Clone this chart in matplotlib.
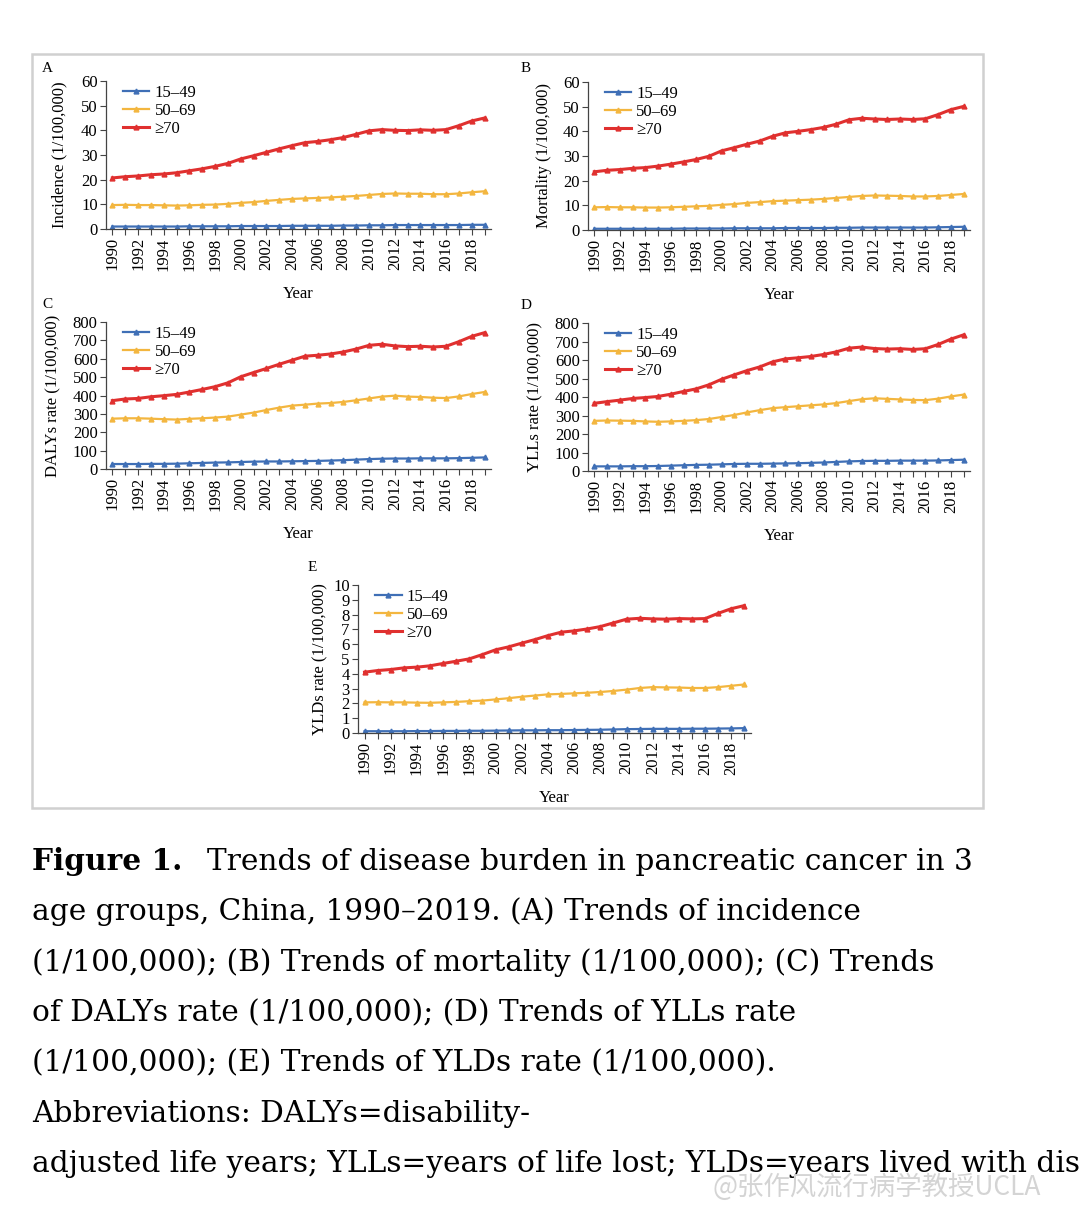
import matplotlib.pyplot as plt
from matplotlib.patches import Rectangle

# data
years = list(range(1990, 2020))
groups = ['15–49', '50–69', '≥70']

inc_15_49 = [1.0, 1.0, 1.0, 1.0, 1.0, 1.0, 1.1, 1.1, 1.1, 1.1, 1.2, 1.2, 1.2, 1.2, 1.3, 1.3,
             1.3, 1.3, 1.4, 1.4, 1.5, 1.5, 1.6, 1.6, 1.6, 1.6, 1.6, 1.6, 1.7, 1.7]
inc_50_69 = [9.7, 9.8, 9.7, 9.7, 9.6, 9.5, 9.6, 9.8, 9.9, 10.2, 10.6, 10.9, 11.4, 11.8, 12.2,
             12.4, 12.6, 12.8, 13.1, 13.4, 13.8, 14.2, 14.4, 14.3, 14.3, 14.1, 14.1, 14.4, 14.9, 15.3]
inc_70 = [20.7, 21.2, 21.5, 22.0, 22.3, 22.8, 23.6, 24.4, 25.4, 26.6, 28.4, 29.7, 31.1, 32.5, 33.8,
          35.0, 35.5, 36.2, 37.1, 38.4, 39.8, 40.3, 40.0, 39.9, 40.2, 40.0, 40.3, 41.9, 43.8, 45.0]

mort_15_49 = [0.5, 0.5, 0.5, 0.5, 0.5, 0.5, 0.5, 0.6, 0.6, 0.6, 0.6, 0.7, 0.7, 0.7, 0.7, 0.8,
              0.8, 0.8, 0.8, 0.9, 0.9, 1.0, 1.0, 1.0, 1.0, 1.0, 1.0, 1.1, 1.2, 1.3]
mort_50_69 = [9.2, 9.3, 9.2, 9.2, 9.1, 9.1, 9.2, 9.4, 9.6, 9.8, 10.2, 10.5, 11.0, 11.3, 11.7,
              11.9, 12.1, 12.3, 12.6, 13.0, 13.4, 13.8, 14.0, 13.9, 13.8, 13.6, 13.6, 13.8, 14.2, 14.6]
mort_70 = [23.6, 24.2, 24.5, 25.0, 25.3, 25.9, 26.7, 27.6, 28.6, 29.9, 32.1, 33.4, 34.8, 36.1, 38.0,
           39.4, 40.0, 40.7, 41.6, 42.9, 44.7, 45.3, 45.0, 44.8, 45.0, 44.8, 45.1, 46.8, 48.8, 50.1]

daly_15_49 = [27, 27, 27, 28, 28, 29, 31, 33, 35, 36, 38, 40, 41, 41, 42, 43, 44, 46, 48, 51,
              54, 56, 57, 57, 58, 58, 58, 59, 61, 63]
daly_50_69 = [274, 276, 276, 274, 271, 269, 273, 276, 280, 285, 296, 307, 321, 334, 345, 350,
              356, 359, 365, 374, 384, 394, 399, 394, 392, 388, 386, 395, 408, 419]
daly_70 = [372, 381, 384, 393, 399, 406, 419, 433, 448, 469, 502, 525, 547, 570, 592, 614,
           619, 626, 637, 653, 673, 679, 670, 666, 668, 664, 668, 693, 722, 742]

yll_15_49 = [25, 25, 25, 26, 26, 27, 29, 31, 33, 34, 36, 38, 39, 39, 40, 41, 42, 44, 46, 49,
             52, 54, 55, 55, 56, 56, 56, 57, 59, 61]
yll_50_69 = [271, 273, 272, 271, 268, 266, 268, 271, 275, 281, 292, 303, 317, 329, 340, 345,
             350, 355, 360, 367, 378, 388, 393, 390, 387, 384, 383, 391, 403, 413]
yll_70 = [366, 375, 383, 392, 397, 403, 415, 430, 444, 466, 496, 520, 543, 563, 590, 606,
          612, 619, 630, 644, 664, 670, 662, 659, 661, 657, 661, 684, 713, 736]

yld_15_49 = [0.12, 0.12, 0.12, 0.12, 0.13, 0.13, 0.14, 0.14, 0.15, 0.15, 0.16, 0.17, 0.18, 0.18,
             0.19, 0.19, 0.20, 0.21, 0.22, 0.24, 0.26, 0.27, 0.28, 0.28, 0.28, 0.29, 0.29, 0.30,
             0.31, 0.33]
yld_50_69 = [2.07, 2.08, 2.07, 2.07, 2.05, 2.04, 2.07, 2.10, 2.15, 2.19, 2.27, 2.35, 2.45, 2.53,
             2.61, 2.64, 2.68, 2.72, 2.77, 2.84, 2.93, 3.04, 3.10, 3.08, 3.07, 3.04, 3.04, 3.10,
             3.19, 3.28]
yld_70 = [4.11, 4.22, 4.29, 4.40, 4.45, 4.54, 4.70, 4.85, 5.01, 5.30, 5.62, 5.82, 6.07, 6.31,
          6.58, 6.81, 6.90, 7.03, 7.19, 7.44, 7.69, 7.75, 7.71, 7.69, 7.73, 7.71, 7.73, 8.09,
          8.40, 8.61]

colors = ['#3f6fb6', '#f3b63f', '#e0302f']
widths = [1.6, 1.6, 2.2]

W, H = 1080, 1207
plt.rcParams['font.family'] = ['Liberation Serif', 'DejaVu Serif']
fig = plt.figure(figsize=(W / 100, H / 100), dpi=100)

# outer frame around the figure panels
fig.patches.append(Rectangle((32 / W, 1 - 808 / H), (983 - 32) / W, (808 - 54) / H,
                             transform=fig.transFigure, fill=False, ec='#d0d0d0', lw=1.8))


def panel(left, right, top, bottom, series, ymax, ystep, ylabel, letter, letter_dx, lpad):
    ax = fig.add_axes([left / W, 1 - bottom / H, (right - left) / W, (bottom - top) / H])
    for vals, c, lw, lab in zip(series, colors, widths, groups):
        ax.plot(years, vals, color=c, lw=lw, marker='^', ms=3.5, label=lab)
    ax.set_xlim(1989.5, 2019.5)
    ax.set_ylim(0, ymax)
    ax.set_yticks([i * ystep for i in range(int(round(ymax / ystep)) + 1)])
    ax.set_xticks(years)
    ax.set_xticklabels([str(y) if y % 2 == 0 else '' for y in years], rotation=90)
    ax.tick_params(axis='both', labelsize=12, length=4, width=0.8, color='#444444', pad=2)
    for s in ['top', 'right']:
        ax.spines[s].set_visible(False)
    for s in ['left', 'bottom']:
        ax.spines[s].set_color('#444444')
        ax.spines[s].set_linewidth(0.9)
    ax.set_ylabel(ylabel, fontsize=12, labelpad=lpad)
    ax.set_xlabel('Year', fontsize=12, labelpad=11)
    ax.legend(loc='upper left', bbox_to_anchor=(0.022, 1.03), frameon=False, fontsize=12,
              handlelength=1.6, handletextpad=0.3, labelspacing=0.12, borderpad=0)
    # panel letter, placed in pixels left of the y axis
    fig.text((left + letter_dx) / W, 1 - 72 / H if top < 100 else 1 - (top - 14) / H,
             letter, fontsize=11, va='baseline')
    return ax


panel(106, 491, 81, 229, [inc_15_49, inc_50_69, inc_70], 60, 10,
      'Incidence (1/100,000)', 'A', -64, 10)
panel(588, 970, 82, 230, [mort_15_49, mort_50_69, mort_70], 60, 10,
      'Mortality (1/100,000)', 'B', -67, 8)
panel(106, 491, 322, 469, [daly_15_49, daly_50_69, daly_70], 800, 100,
      'DALYs rate (1/100,000)', 'C', -64, 8)
panel(588, 970, 323, 471, [yll_15_49, yll_50_69, yll_70], 800, 100,
      'YLLs rate (1/100,000)', 'D', -67, 8)
panel(358, 751, 585, 733, [yld_15_49, yld_50_69, yld_70], 10, 1,
      'YLDs rate (1/100,000)', 'E', -50, 3)

# caption (last line runs off the right edge, as in the source page)
cap = ['age groups, China, 1990–2019. (A) Trends of incidence',
       '(1/100,000); (B) Trends of mortality (1/100,000); (C) Trends',
       'of DALYs rate (1/100,000); (D) Trends of YLLs rate',
       '(1/100,000); (E) Trends of YLDs rate (1/100,000).',
       'Abbreviations: DALYs=disability-',
       'adjusted life years; YLLs=years of life lost; YLDs=years lived with disability.']
fs = 21.3
cf = ['DejaVu Serif']
fig.text(32 / W, 1 - 870 / H, 'Figure 1.', fontsize=fs, fontweight='bold', va='baseline', family=cf)
fig.text(207 / W, 1 - 870 / H, 'Trends of disease burden in pancreatic cancer in 3',
         fontsize=fs, va='baseline', family=cf)
for i, line in enumerate(cap):
    fig.text(32 / W, 1 - (870 + 50.3 * (i + 1)) / H, line, fontsize=fs, va='baseline', family=cf)

# watermark
fig.text(712 / W, 1 - 1195 / H, '@张作风流行病学教授UCLA', fontsize=19, color='#d4d4d4',
         family=['Noto Sans CJK SC', 'DejaVu Sans'], va='baseline')

fig.savefig('out.png', dpi=100)
